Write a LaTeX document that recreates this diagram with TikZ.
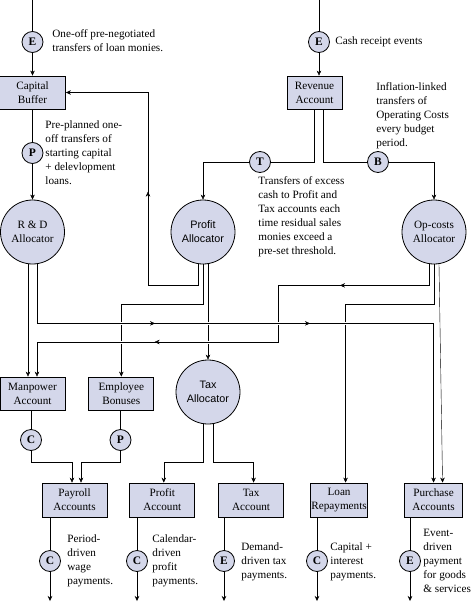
\documentclass[tikz,border=0pt]{standalone}
\usepackage{fontspec}
\setmainfont{Liberation Serif}
\newfontfamily\allocsans{Liberation Sans}
\usetikzlibrary{arrows.meta, positioning, backgrounds, decorations.markings}
\definecolor{softlilac}{RGB}{212, 215, 234}

\begin{document}
\begin{tikzpicture}[
    x=1pt, y=-1pt,
    font=\fontsize{11.2}{14}\selectfont,
    line width=0.8pt,
    base/.style={
        draw=black, 
        line width=0.8pt, 
        fill=softlilac, 
        align=center
    },
    account/.style={
        base, 
        rectangle, 
        minimum height=33pt, 
        inner sep=1pt
    },
    allocator/.style={
        base, 
        circle, 
        minimum size=64pt, 
        inner sep=0pt
    },
    sansallocator/.style={
        allocator, 
        font=\allocsans\fontsize{10.8}{14}\selectfont
    },
    event/.style={
        base, 
        circle, 
        minimum size=21pt, 
        inner sep=0pt, 
        font=\fontsize{11.5}{14}\selectfont\bfseries
    },
    note/.style={anchor=north west, inner sep=0pt, align=left},
    arrow/.style={-{Stealth[length=5pt, width=4.5pt]}},
    hop/.style={preaction={draw=white, line width=3pt, -}},
    midtip/.style={postaction={decorate}, decoration={markings,
        mark=at position #1 with {\arrow{Stealth[length=5pt, width=4.5pt]}}}},
    midtips/.style 2 args={postaction={decorate}, decoration={markings,
        mark=at position #1 with {\arrow{Stealth[length=5pt, width=4.5pt]}},
        mark=at position #2 with {\arrow{Stealth[length=5pt, width=4.5pt]}}}}
]
    \useasboundingbox (0,0) rectangle (473,602);

    % Accounts and allocators
    \node[account, minimum width=66pt] (capital) at (32.5,92.5) {Capital\\Buffer};
    \node[account, minimum width=55pt] (revenue) at (314.5,92.5) {Revenue\\Account};
    \node[allocator] (rnd) at (32.5,232) {R \& D\\Allocator};
    \node[sansallocator] (profit) at (203,232) {Profit\\Allocator};
    \node[allocator] (opcosts) at (434,232) {Op-costs\\Allocator};
    \node[sansallocator] (tax) at (208,392) {Tax\\Allocator};
    \node[account, minimum width=65pt] (manpower) at (32.5,393.5) {Manpower\\Account};
    \node[account, minimum width=65pt, right=23pt of manpower] (bonuses) {Employee\\Bonuses};
    \node[account, minimum width=65pt, minimum height=34pt] (payroll) at (74.5,500) {Payroll\\Accounts};
    \node[account, minimum width=65pt, minimum height=34pt, right=22pt of payroll] (profitacct) {Profit\\Account};
    \node[account, minimum width=65pt, minimum height=34pt, right=23pt of profitacct] (taxacct) {Tax\\Account};
    \node[account, minimum width=57pt, minimum height=34pt, right=26pt of taxacct] (loan) {Loan\\Repayments};
    \node[account, minimum width=58pt, minimum height=34pt, right=36pt of loan] (purchase) {Purchase\\Accounts};

    % Transfer events
    \node[event] (eloan) at (32.5,42) {E};
    \node[event] (ecash) at (319,42) {E};
    \node[event] (pstart) at (32.5,153) {P};
    \node[event] (tprofit) at (260,162) {T};
    \node[event] (bopcost) at (378,162) {B};
    \node[event] (cman) at (31,440) {C};
    \node[event] (pbonus) at (120.5,440) {P};
    \node[event] (cpay) at (50,561) {C};
    \node[event] (cprof) at (137,561) {C};
    \node[event] (etax) at (224,561) {E};
    \node[event] (cloan) at (317,561) {C};
    \node[event] (epurch) at (410,561) {E};

    % Notes
    \node[note] (loannote) at (52,29) {One-off pre-negotiated\\transfers of loan monies.};
    \node[note] (cashnote) at (335,36) {Cash receipt events};
    \node[note] (startnote) at (45,120) {Pre-planned one-\\off transfers of\\starting capital\\+ delevlopment\\loans.};
    \node[note] (inflnote) at (376,82) {Inflation-linked\\transfers of\\Operating Costs\\every budget\\period.};
    \node[note] (excessnote) at (258,176) {Transfers of excess\\cash to Profit and\\Tax accounts each\\time residual sales\\monies exceed a\\pre-set threshold.};
    \node[note] (wagenote) at (67,534) {Period-\\driven\\wage\\payments.};
    \node[note] (profitnote) at (152,534) {Calendar-\\driven\\profit\\payments.};
    \node[note] (taxnote) at (241,542) {Demand-\\driven tax\\payments.};
    \node[note] (repaynote) at (330,542) {Capital +\\interest\\payments.};
    \node[note] (goodsnote) at (423,529) {Event-\\driven\\payment\\for goods\\\& services};

    % Free ends and bends
    \coordinate (topleft) at (32.5,0);
    \coordinate (topright) at (319,0);
    \coordinate (bottomline) at (0,601);
    \coordinate (returnbend) at (148,285);
    \coordinate (opbend) at (278,342);

    % Edges
    \begin{scope}[on background layer]
    \draw[arrow] (topleft) -- (eloan) -- (capital);
    \draw[arrow] (capital) -- (pstart) -- (rnd);
    \draw[arrow] (topright) -- (ecash) -- (ecash |- revenue.north);
    \draw[arrow] ([xshift=-0.5pt]revenue.south) |- (tprofit) -| (profit);
    \draw[arrow] ([xshift=8.5pt]revenue.south) |- (bopcost) -| (opcosts);
    \draw[arrow, midtip=164pt] ([xshift=-5pt]profit.south) |- (returnbend) |- (capital);
    \draw[arrow] (profit.south) -- ++(0,40) -| (bonuses);
    \draw[arrow] ([xshift=5pt]profit.south) -- (tax);
    \draw[arrow] ([xshift=-5pt]tax.south) -- ++(0,38) -| ([xshift=1.5pt]profitacct.north);
    \draw[arrow] ([xshift=5pt]tax.south) -- ++(0,38) -| ([xshift=2.5pt]taxacct.north);
    \draw[arrow] ([xshift=-4.5pt]rnd.south) -- ([xshift=-4.5pt]manpower.north);
    \draw[arrow] ([xshift=5pt]opcosts.south) -- ([xshift=9pt]purchase.north);
    \draw[arrow] (opcosts.south) -- ++(0,40) -| ([xshift=6.5pt]loan.north);
    \draw[arrow] (manpower.south -| cman) -- (cman) -- ++(0,22) -| ([xshift=-2.5pt]payroll.north);
    \draw[arrow] (bonuses.south -| pbonus) -- (pbonus) -- ++(0,22) -| ([xshift=6.5pt]payroll.north);
    \foreach \acct/\ev in {payroll/cpay, profitacct/cprof, taxacct/etax, loan/cloan, purchase/epurch}
        \draw[arrow] (\acct.south -| \ev) -- (\ev) -- (\ev |- bottomline);
    \draw[arrow, hop, midtips={110pt}{352pt}] ([xshift=-5pt]opcosts.south) -- ++(0,21) -| (opbend) -| ([xshift=4.5pt]manpower.north);
    \draw[arrow, hop, midtips={177pt}{332pt}] ([xshift=4.5pt]rnd.south) -- ++(0,59) -| (purchase.north);
    \end{scope}

\end{tikzpicture}
\end{document}
